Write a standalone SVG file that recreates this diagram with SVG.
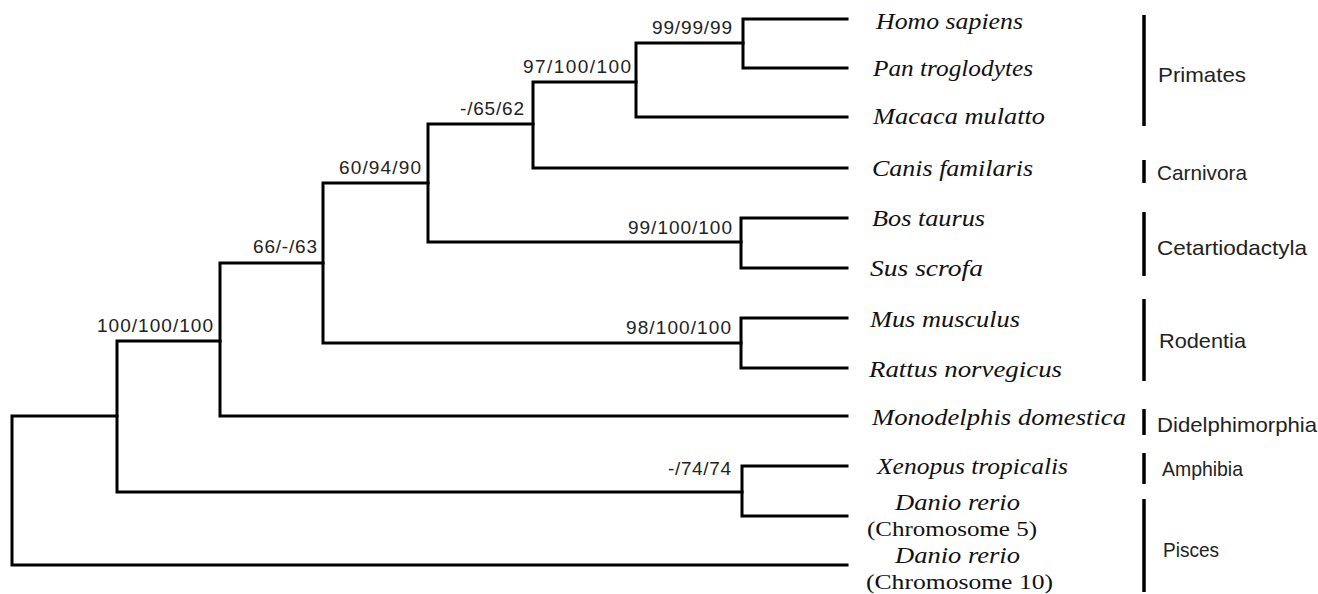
<svg xmlns="http://www.w3.org/2000/svg" width="1318" height="594" viewBox="0 0 1318 594">
<style>
.br{fill:none;stroke:#000;stroke-width:3;stroke-linecap:square;stroke-linejoin:miter}
.bar{fill:none;stroke:#000;stroke-width:3.5}
.sup{font-family:"Liberation Sans",Arial,sans-serif;font-size:19px;fill:#222;text-anchor:end}
.sp{font-family:"Liberation Serif","Times New Roman",serif;font-style:italic;font-size:24px;fill:#111}
.sp2{font-family:"Liberation Serif","Times New Roman",serif;font-style:italic;font-size:23px;fill:#111}
.chr{font-family:"Liberation Serif","Times New Roman",serif;font-size:22px;fill:#111}
.grp{font-family:"Liberation Sans",Arial,sans-serif;font-size:21px;fill:#222}
</style>
<rect width="1318" height="594" fill="#fff"/>
<g id="connectors">
<path class="br" d="M847,19 H743 V68 H847"/>
<path class="br" d="M743,43 H636 V117 H847"/>
<path class="br" d="M636,82 H533 V168 H847"/>
<path class="br" d="M847,218 H741 V268 H847"/>
<path class="br" d="M533,124 H428 V242 H741"/>
<path class="br" d="M847,318 H741 V368 H847"/>
<path class="br" d="M428,183 H323 V343 H741"/>
<path class="br" d="M323,263 H220 V416 H847"/>
<path class="br" d="M847,466 H742 V516 H847"/>
<path class="br" d="M220,341 H117 V492 H742"/>
<path class="br" d="M117,416 H12 V565 H847"/>
</g>
<g id="support-labels">
<text class="sup" x="732" y="34" textLength="80" lengthAdjust="spacing">99/99/99</text>
<text class="sup" x="631" y="73" textLength="108" lengthAdjust="spacing">97/100/100</text>
<text class="sup" x="524" y="115" textLength="64" lengthAdjust="spacing">-/65/62</text>
<text class="sup" x="421" y="174" textLength="82" lengthAdjust="spacing">60/94/90</text>
<text class="sup" x="732" y="234" textLength="104" lengthAdjust="spacing">99/100/100</text>
<text class="sup" x="317" y="253" textLength="64" lengthAdjust="spacing">66/-/63</text>
<text class="sup" x="213" y="332" textLength="116" lengthAdjust="spacing">100/100/100</text>
<text class="sup" x="731" y="334" textLength="105" lengthAdjust="spacing">98/100/100</text>
<text class="sup" x="731" y="475" textLength="63" lengthAdjust="spacing">-/74/74</text>
</g>
<g id="node-homo"><text class="sp" x="876" y="29" textLength="147" lengthAdjust="spacingAndGlyphs">Homo sapiens</text></g>
<g id="node-pan"><text class="sp" x="873" y="76" textLength="160" lengthAdjust="spacingAndGlyphs">Pan troglodytes</text></g>
<g id="node-macaca"><text class="sp" x="873" y="124" textLength="172" lengthAdjust="spacingAndGlyphs">Macaca mulatto</text></g>
<g id="node-canis"><text class="sp" x="872" y="176" textLength="161" lengthAdjust="spacingAndGlyphs">Canis familaris</text></g>
<g id="node-bos"><text class="sp" x="872" y="226" textLength="113" lengthAdjust="spacingAndGlyphs">Bos taurus</text></g>
<g id="node-sus"><text class="sp" x="870" y="276" textLength="113" lengthAdjust="spacingAndGlyphs">Sus scrofa</text></g>
<g id="node-mus"><text class="sp" x="870" y="327" textLength="150" lengthAdjust="spacingAndGlyphs">Mus musculus</text></g>
<g id="node-rattus"><text class="sp" x="869" y="377" textLength="193" lengthAdjust="spacingAndGlyphs">Rattus norvegicus</text></g>
<g id="node-monodelphis"><text class="sp" x="872" y="425" textLength="254" lengthAdjust="spacingAndGlyphs">Monodelphis domestica</text></g>
<g id="node-xenopus"><text class="sp" x="877" y="474" textLength="191" lengthAdjust="spacingAndGlyphs">Xenopus tropicalis</text></g>
<g id="node-danio5">
<text class="sp2" x="895" y="510" textLength="125" lengthAdjust="spacingAndGlyphs">Danio rerio</text>
<text class="chr" x="867" y="536" textLength="170" lengthAdjust="spacingAndGlyphs">(Chromosome 5)</text>
</g>
<g id="node-danio10">
<text class="sp2" x="895" y="563" textLength="125" lengthAdjust="spacingAndGlyphs">Danio rerio</text>
<text class="chr" x="866" y="589" textLength="187" lengthAdjust="spacingAndGlyphs">(Chromosome 10)</text>
</g>
<g id="group-primates"><line class="bar" x1="1144" y1="15" x2="1144" y2="126"/><text class="grp" x="1158" y="82" textLength="88" lengthAdjust="spacingAndGlyphs">Primates</text></g>
<g id="group-carnivora"><line class="bar" x1="1144" y1="160" x2="1144" y2="183"/><text class="grp" x="1157" y="180" textLength="90" lengthAdjust="spacingAndGlyphs">Carnivora</text></g>
<g id="group-cetartiodactyla"><line class="bar" x1="1144" y1="212" x2="1144" y2="276"/><text class="grp" x="1157" y="255" textLength="150" lengthAdjust="spacingAndGlyphs">Cetartiodactyla</text></g>
<g id="group-rodentia"><line class="bar" x1="1144" y1="299" x2="1144" y2="381"/><text class="grp" x="1159" y="348" textLength="87" lengthAdjust="spacingAndGlyphs">Rodentia</text></g>
<g id="group-didelphimorphia"><line class="bar" x1="1144" y1="409" x2="1144" y2="435"/><text class="grp" x="1157" y="432" textLength="160" lengthAdjust="spacingAndGlyphs">Didelphimorphia</text></g>
<g id="group-amphibia"><line class="bar" x1="1144" y1="453" x2="1144" y2="484"/><text class="grp" x="1162" y="476" textLength="81" lengthAdjust="spacingAndGlyphs">Amphibia</text></g>
<g id="group-pisces"><line class="bar" x1="1144" y1="499" x2="1144" y2="592"/><text class="grp" x="1163" y="557" textLength="56" lengthAdjust="spacingAndGlyphs">Pisces</text></g>
</svg>
